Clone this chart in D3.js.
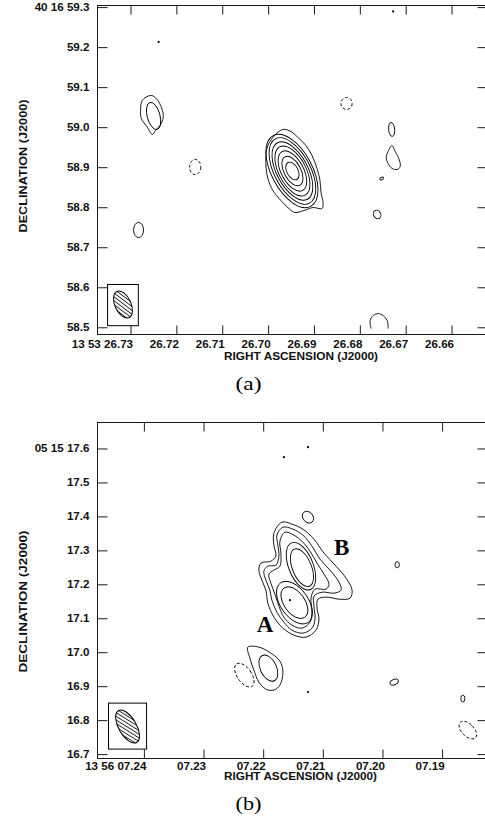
<!DOCTYPE html>
<html>
<head>
<meta charset="utf-8">
<script src="https://cdn.jsdelivr.net/npm/d3@7"></script>
<style>
  html, body { margin: 0; padding: 0; background: #fff; }
  svg { display: block; }
</style>
</head>
<body>
<svg id="chart" width="485" height="821"></svg>
<script>
// ---------------- Panel (a) ----------------
const raTicksA = [26.73, 26.72, 26.71, 26.70, 26.69, 26.68, 26.67, 26.66];
const raLabelsA = ["13 53 26.73", "26.72", "26.71", "26.70", "26.69", "26.68", "26.67", "26.66"];
const decTicksA = [59.3, 59.2, 59.1, 59.0, 58.9, 58.8, 58.7, 58.6, 58.5];
const decLabelsA = ["40 16 59.3", "59.2", "59.1", "59.0", "58.9", "58.8", "58.7", "58.6", "58.5"];

// elliptical contours: centre (RA s, Dec "), semi-axes ("), tilt (deg)
const ellipsesA = [
  { ra: 26.6947, dec: 58.8905, maj: 0.024, min: 0.014, tilt: -28 },
  { ra: 26.6947, dec: 58.8905, maj: 0.040, min: 0.021, tilt: -28 },
  { ra: 26.6947, dec: 58.8905, maj: 0.055, min: 0.028, tilt: -28 },
  { ra: 26.6947, dec: 58.8905, maj: 0.068, min: 0.034, tilt: -28 },
  { ra: 26.6947, dec: 58.8905, maj: 0.080, min: 0.039, tilt: -28 },
  { ra: 26.6947, dec: 58.8905, maj: 0.091, min: 0.045, tilt: -28 },
  { ra: 26.6948, dec: 58.8905, maj: 0.100, min: 0.051, tilt: -28 },
  { ra: 26.72497, dec: 59.028, maj: 0.035, min: 0.016, tilt: -15 },
  { ra: 26.71590, dec: 58.9005, maj: 0.019, min: 0.014, tilt: 0, dash: true },
  { ra: 26.72825, dec: 58.743, maj: 0.019, min: 0.0125, tilt: 0 },
  { ra: 26.68290, dec: 59.0593, maj: 0.015, min: 0.014, tilt: 0, dash: true },
  { ra: 26.67306, dec: 58.9943, maj: 0.0175, min: 0.0075, tilt: -5 },
  { ra: 26.67525, dec: 58.8718, maj: 0.005, min: 0.003, tilt: 60 },
  { ra: 26.67623, dec: 58.7818, maj: 0.011, min: 0.009, tilt: -30 }
];

// irregular closed contours as [RA s, Dec "] vertices
const outlinesA = [
  [[26.69678, 58.9943], [26.69503, 58.9893], [26.69328, 58.9718], [26.69175, 58.9543], [26.69044, 58.9293],
   [26.68934, 58.8968], [26.68869, 58.8668], [26.68847, 58.8368], [26.68803, 58.8118], [26.68825, 58.7968],
   [26.69022, 58.7993], [26.69219, 58.7918], [26.69415, 58.7868], [26.69546, 58.7968], [26.69721, 58.8168],
   [26.69896, 58.8418], [26.70005, 58.8718], [26.70049, 58.9093], [26.70027, 58.9468], [26.69896, 58.9743]],
  [[26.72563, 59.0793], [26.72454, 59.0735], [26.72344, 59.0543], [26.72285, 59.0293], [26.72329, 59.0093],
   [26.72454, 58.9918], [26.72526, 58.9818], [26.72635, 59.0000], [26.72766, 59.0218], [26.72781, 59.0418],
   [26.72744, 59.0668]],
  [[26.67302, 58.9543], [26.67230, 58.9393], [26.67142, 58.9193], [26.67120, 58.9018], [26.67186, 58.8943],
   [26.67295, 58.8968], [26.67383, 58.9093], [26.67426, 58.9243], [26.67383, 58.9393]]
];
// contour cut by the map edge
const openA = [
  [[26.67754, 58.4968], [26.67776, 58.5168], [26.67710, 58.5293], [26.67601, 58.5343],
   [26.67492, 58.5293], [26.67404, 58.5168], [26.67383, 58.4968]]
];
const dotsA = [[26.72388, 59.213], [26.67273, 59.2893]];
const beamA = { ra: 26.73164, dec: 58.5568, maj: 0.036, min: 0.020, tilt: -25 };
const beamBoxA = [26.7350, 26.7283, 58.607, 58.504];

// ---------------- Panel (b) ----------------
const raTicksB = [7.24, 7.23, 7.22, 7.21, 7.20, 7.19];
const raLabelsB = ["13 56 07.24", "07.23", "07.22", "07.21", "07.20", "07.19"];
const decTicksB = [17.6, 17.5, 17.4, 17.3, 17.2, 17.1, 17.0, 16.9, 16.8, 16.7];
const decLabelsB = ["05 15 17.6", "17.5", "17.4", "17.3", "17.2", "17.1", "17.0", "16.9", "16.8", "16.7"];

const ellipsesB = [
  { ra: 7.21350, dec: 17.2490, maj: 0.059, min: 0.028, tilt: -22 },
  { ra: 7.21366, dec: 17.2534, maj: 0.074, min: 0.036, tilt: -22 },
  { ra: 7.21476, dec: 17.1460, maj: 0.053, min: 0.031, tilt: -35 },
  { ra: 7.21476, dec: 17.1460, maj: 0.071, min: 0.041, tilt: -35 },
  { ra: 7.21249, dec: 17.3977, maj: 0.019, min: 0.0147, tilt: -40 },
  { ra: 7.19753, dec: 17.2578, maj: 0.009, min: 0.0065, tilt: 0 },
  { ra: 7.21913, dec: 16.9532, maj: 0.041, min: 0.024, tilt: -25 },
  { ra: 7.22316, dec: 16.9326, maj: 0.040, min: 0.021, tilt: -35, dash: true },
  { ra: 7.19803, dec: 16.9120, maj: 0.013, min: 0.008, tilt: 70 },
  { ra: 7.18652, dec: 16.8634, maj: 0.010, min: 0.006, tilt: 0 },
  { ra: 7.18568, dec: 16.7707, maj: 0.032, min: 0.018, tilt: -45, dash: true }
];

const outlinesB = [
  [[7.21686, 17.3830], [7.21518, 17.3771], [7.21333, 17.3624], [7.21148, 17.3329], [7.20980, 17.2917],
   [7.20778, 17.2534], [7.20610, 17.2181], [7.20509, 17.1828], [7.20543, 17.1592], [7.20728, 17.1563],
   [7.20929, 17.1622], [7.21081, 17.1563], [7.21097, 17.1298], [7.21064, 17.0974], [7.21114, 17.0650],
   [7.21282, 17.0444], [7.21484, 17.0503], [7.21669, 17.0709], [7.21820, 17.1033], [7.21921, 17.1445],
   [7.21955, 17.1828], [7.22022, 17.2122], [7.22072, 17.2417], [7.22039, 17.2623], [7.21871, 17.2681],
   [7.21787, 17.2829], [7.21820, 17.3152], [7.21820, 17.3506]],
  [[7.21669, 17.3682], [7.21501, 17.3624], [7.21333, 17.3447], [7.21181, 17.3123], [7.21047, 17.2740],
   [7.20879, 17.2417], [7.20728, 17.2063], [7.20694, 17.1828], [7.20812, 17.1739], [7.21013, 17.1769],
   [7.21148, 17.1651], [7.21148, 17.1357], [7.21131, 17.0974], [7.21181, 17.0709], [7.21333, 17.0562],
   [7.21518, 17.0650], [7.21652, 17.0886], [7.21770, 17.1180], [7.21854, 17.1533], [7.21887, 17.1828],
   [7.21955, 17.2122], [7.21988, 17.2387], [7.21921, 17.2534], [7.21787, 17.2564], [7.21736, 17.2829],
   [7.21753, 17.3152], [7.21770, 17.3447]],
  [[7.21635, 17.3535], [7.21484, 17.3447], [7.21350, 17.3270], [7.21215, 17.2976], [7.21097, 17.2623],
   [7.20980, 17.2299], [7.20896, 17.2004], [7.20946, 17.1857], [7.21131, 17.1857], [7.21198, 17.1592],
   [7.21181, 17.1180], [7.21215, 17.0886], [7.21350, 17.0709], [7.21518, 17.0797], [7.21652, 17.1033],
   [7.21736, 17.1357], [7.21803, 17.1710], [7.21871, 17.2034], [7.21904, 17.2299], [7.21820, 17.2417],
   [7.21719, 17.2534], [7.21703, 17.2917], [7.21719, 17.3270]],
  [[7.22257, 17.0150], [7.22072, 17.0150], [7.21871, 16.9973], [7.21719, 16.9738], [7.21669, 16.9414],
   [7.21719, 16.9031], [7.21820, 16.8884], [7.21955, 16.8913], [7.22072, 16.9120], [7.22156, 16.9473],
   [7.22223, 16.9826]]
];
const openB = [];
const dotsB = [[7.21249, 17.6037], [7.21652, 17.5743], [7.21551, 17.1533], [7.21249, 16.8825]];
const beamB = { ra: 7.24274, dec: 16.7810, maj: 0.054, min: 0.026, tilt: -30 };
const beamBoxB = [7.24593, 7.23955, 16.8501, 16.7147];
const sourceLabelsB = [
  { text: "A", ra: 7.22106, dec: 17.0591 },
  { text: "B", ra: 7.20812, dec: 17.2858 }
];

// ---------------- drawing ----------------
const svg = d3.select("#chart");
const SANS = "'Liberation Sans', Arial, Helvetica, sans-serif";
const SERIF = "'Liberation Serif', 'Times New Roman', serif";

const defs = svg.append("defs");
const hatch = defs.append("pattern")
  .attr("id", "hatch")
  .attr("patternUnits", "userSpaceOnUse")
  .attr("width", 3.1).attr("height", 3.1)
  .attr("patternTransform", "rotate(-28)");
hatch.append("rect").attr("width", 3.1).attr("height", 3.1).attr("fill", "#fff");
hatch.append("line").attr("x1", 0.5).attr("y1", 0).attr("x2", 0.5).attr("y2", 3.1)
  .attr("stroke", "#000").attr("stroke-width", 0.8);

function stretch(sel, f) {
  sel.each(function () {
    const len = this.getComputedTextLength();
    d3.select(this).attr("textLength", len * f).attr("lengthAdjust", "spacingAndGlyphs");
  });
}

function drawPanel(p, id) {
  const g = svg.append("g");
  const x = d3.scaleLinear().domain(p.raDomain).range([p.left, p.right]);
  const y = d3.scaleLinear().domain(p.decDomain).range([p.bottom, p.top]);

  defs.append("clipPath").attr("id", "clip-" + id)
    .append("rect").attr("x", p.left).attr("y", p.top)
    .attr("width", p.right - p.left).attr("height", p.bottom - p.top);

  // axes
  const axisColor = "#1a1a1a";
  const bottom = g.append("g").attr("transform", `translate(0,${p.bottom})`)
    .call(d3.axisBottom(x).tickValues(p.raTicks).tickSize(-9).tickSizeOuter(0)
      .tickFormat((d, i) => p.raLabels[i]));
  const top = g.append("g").attr("transform", `translate(0,${p.top})`)
    .call(d3.axisTop(x).tickValues(p.raTicks).tickSize(-9).tickSizeOuter(0).tickFormat(""));
  const left = g.append("g").attr("transform", `translate(${p.left},0)`)
    .call(d3.axisLeft(y).tickValues(p.decTicks).tickSize(-10).tickSizeOuter(0).tickPadding(8)
      .tickFormat((d, i) => p.decLabels[i]));
  const right = g.append("g").attr("transform", `translate(${p.right},0)`)
    .call(d3.axisRight(y).tickValues(p.decTicks).tickSize(-8).tickSizeOuter(0).tickFormat(""));

  [bottom, top, left, right].forEach(a => {
    a.attr("color", axisColor).attr("font-family", SANS).attr("font-size", 10).attr("font-weight", "bold");
    a.select(".domain").remove();
    a.selectAll(".tick line").attr("stroke-width", 1);
  });
  bottom.selectAll(".tick text")
    .attr("text-anchor", "end").attr("x", 2).attr("y", p.xLabelOffset).attr("dy", null)
    .attr("fill", "#111");
  left.selectAll(".tick text").attr("fill", "#111");
  stretch(bottom.selectAll(".tick text"), 1.16);
  stretch(left.selectAll(".tick text"), 1.16);

  // frame
  g.append("rect")
    .attr("x", p.left).attr("y", p.top)
    .attr("width", p.right - p.left).attr("height", p.bottom - p.top)
    .attr("fill", "none").attr("stroke", axisColor).attr("stroke-width", 1);

  // axis titles
  g.append("text")
    .attr("x", p.xTitleX).attr("y", p.xTitleY)
    .attr("text-anchor", "middle")
    .attr("font-family", SANS).attr("font-size", 10).attr("font-weight", "bold").attr("fill", "#111")
    .attr("textLength", p.xTitleLen).attr("lengthAdjust", "spacingAndGlyphs")
    .text("RIGHT ASCENSION (J2000)");
  g.append("text")
    .attr("transform", `translate(${p.yTitleX},${p.yTitleY}) rotate(-90)`)
    .attr("text-anchor", "middle")
    .attr("font-family", SANS).attr("font-size", 10).attr("font-weight", "bold").attr("fill", "#111")
    .attr("textLength", p.yTitleLen).attr("lengthAdjust", "spacingAndGlyphs")
    .text("DECLINATION (J2000)");

  // contours
  const plot = g.append("g").attr("clip-path", `url(#clip-${id})`);
  const px = d => y(d.dec) - y(d.dec + 1); // pixels per arcsec

  plot.selectAll("ellipse.contour").data(p.ellipses).join("ellipse")
    .attr("class", "contour")
    .attr("cx", d => x(d.ra)).attr("cy", d => y(d.dec))
    .attr("rx", d => d.min * px(d)).attr("ry", d => d.maj * px(d))
    .attr("transform", d => `rotate(${d.tilt},${x(d.ra)},${y(d.dec)})`)
    .attr("fill", "none").attr("stroke", "#000").attr("stroke-width", 0.9)
    .attr("stroke-dasharray", d => d.dash ? "3,2" : null);

  const closed = d3.line().x(d => x(d[0])).y(d => y(d[1])).curve(d3.curveCatmullRomClosed.alpha(0.5));
  const open = d3.line().x(d => x(d[0])).y(d => y(d[1])).curve(d3.curveCatmullRom.alpha(0.5));

  plot.selectAll("path.outline").data(p.outlines).join("path")
    .attr("class", "outline").attr("d", closed)
    .attr("fill", "none").attr("stroke", "#000").attr("stroke-width", 0.9);
  plot.selectAll("path.open").data(p.open).join("path")
    .attr("class", "open").attr("d", open)
    .attr("fill", "none").attr("stroke", "#000").attr("stroke-width", 0.9);
  plot.selectAll("circle.dot").data(p.dots).join("circle")
    .attr("class", "dot").attr("cx", d => x(d[0])).attr("cy", d => y(d[1])).attr("r", 1.1)
    .attr("fill", "#000");

  // beam
  const bb = p.beamBox;
  plot.append("rect")
    .attr("x", x(bb[0])).attr("y", y(bb[2]))
    .attr("width", x(bb[1]) - x(bb[0])).attr("height", y(bb[3]) - y(bb[2]))
    .attr("fill", "#fff").attr("stroke", "#000").attr("stroke-width", 1);
  const b = p.beam;
  plot.append("ellipse")
    .attr("cx", x(b.ra)).attr("cy", y(b.dec))
    .attr("rx", b.min * px(b)).attr("ry", b.maj * px(b))
    .attr("transform", `rotate(${b.tilt},${x(b.ra)},${y(b.dec)})`)
    .attr("fill", "url(#hatch)").attr("stroke", "#000").attr("stroke-width", 1);

  // component labels
  plot.selectAll("text.src").data(p.sourceLabels || []).join("text")
    .attr("class", "src")
    .attr("x", d => x(d.ra)).attr("y", d => y(d.dec))
    .attr("font-family", SERIF).attr("font-weight", "bold").attr("font-size", 23)
    .attr("fill", "#000").text(d => d.text);

  // caption
  g.append("text")
    .attr("x", p.captionX).attr("y", p.captionY)
    .attr("text-anchor", "middle")
    .attr("font-family", SERIF).attr("font-size", 19).attr("fill", "#000")
    .attr("textLength", 26).attr("lengthAdjust", "spacingAndGlyphs")
    .text(p.caption);
}

drawPanel({
  raDomain: [26.7372, 26.6526], decDomain: [58.482, 59.304],
  left: 97.5, right: 485.5, top: 5.5, bottom: 334.5,
  raTicks: raTicksA, raLabels: raLabelsA, decTicks: decTicksA, decLabels: decLabelsA,
  xLabelOffset: 13.5, xTitleX: 301, xTitleY: 360, xTitleLen: 154,
  yTitleX: 26.5, yTitleY: 166, yTitleLen: 133,
  ellipses: ellipsesA, outlines: outlinesA, open: openA, dots: dotsA,
  beam: beamA, beamBox: beamBoxA,
  caption: "(a)", captionX: 248.5, captionY: 390
}, "a");

drawPanel({
  raDomain: [7.24778, 7.18272], decDomain: [16.687, 17.6765],
  left: 97.5, right: 485.5, top: 422.5, bottom: 758.5,
  raTicks: raTicksB, raLabels: raLabelsB, decTicks: decTicksB, decLabels: decLabelsB,
  xLabelOffset: 11, xTitleX: 300.5, xTitleY: 780, xTitleLen: 153,
  yTitleX: 26.5, yTitleY: 601.5, yTitleLen: 142,
  ellipses: ellipsesB, outlines: outlinesB, open: openB, dots: dotsB,
  beam: beamB, beamBox: beamBoxB, sourceLabels: sourceLabelsB,
  caption: "(b)", captionX: 248.5, captionY: 809.5
}, "b");
</script>
</body>
</html>
